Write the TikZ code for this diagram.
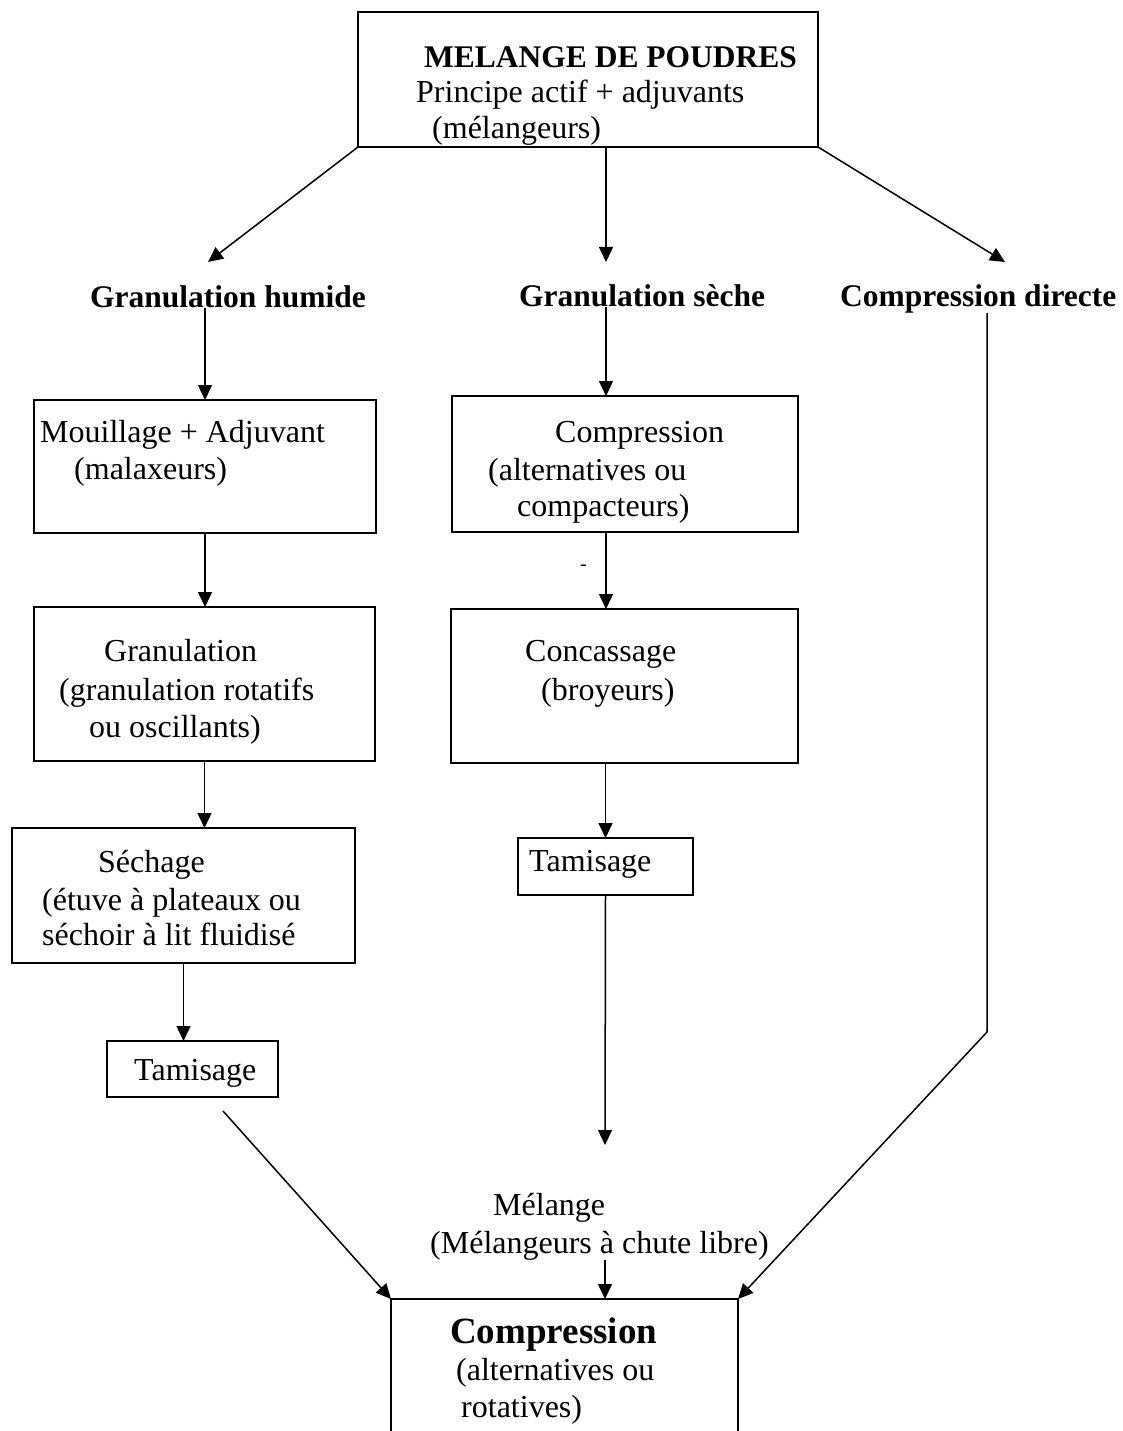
\documentclass[tikz,border=0pt]{standalone}
\usepackage{fontspec}
\setmainfont{Liberation Serif}
\usetikzlibrary{arrows.meta}
\begin{document}
\begin{tikzpicture}[x=1pt,y=-1pt,
  box/.style={draw,line width=1.5pt,inner sep=0pt,outer sep=0pt},
  txt/.style={inner sep=0pt,anchor=base west,font=\fontsize{32}{37}\selectfont},
  btxt/.style={inner sep=0pt,anchor=base west,font=\fontsize{31.5}{37}\selectfont\bfseries},
  bigtxt/.style={inner sep=0pt,anchor=base west,font=\fontsize{37}{40}\selectfont\bfseries},
  arr/.style={line width=1.5pt,-{Triangle[length=15pt,width=14pt]}},
  ln/.style={line width=1.5pt}]
\useasboundingbox (0,0) rectangle (1122,1431);

% boxes
\node[box,minimum width=460pt,minimum height=135pt] (top) at (588,79.5) {};
\node[box,minimum width=342pt,minimum height=133pt] (b1) at (205,466.5) {};
\node[box,minimum width=341pt,minimum height=154pt] (b2) at (204.5,684) {};
\node[box,minimum width=343pt,minimum height=135pt] (b3) at (183.5,895.5) {};
\node[box,minimum width=171pt,minimum height=56pt] (b4) at (192.5,1069) {};
\node[box,minimum width=346pt,minimum height=136pt] (m1) at (625,464) {};
\node[box,minimum width=347pt,minimum height=154pt] (m2) at (624.5,686) {};
\node[box,minimum width=175pt,minimum height=57pt] (m3) at (605.5,866.5) {};
\node[inner sep=0pt,outer sep=0pt,minimum width=347pt,minimum height=150pt] (bot) at (564.5,1374) {};
\draw[ln] (bot.south west) -- (bot.north west) -- (bot.north east) -- (bot.south east);

% texts
\node[btxt] (t1) at (424,68) {MELANGE DE POUDRES};
\node[txt] (t2) at (416,103) {Principe actif + adjuvants};
\node[txt] (t3) at (432,139) {(mélangeurs)};

\node[btxt] (gh) at (90,307) {Granulation humide};
\node[btxt] (gs) at (519,306) {Granulation sèche};
\node[btxt] (cd) at (840,306) {Compression directe};

\node[txt] (b1a) at (40,442) {Mouillage + Adjuvant};
\node[txt] (b1b) at (74,479) {(malaxeurs)};
\node[txt] (b2a) at (104,661) {Granulation};
\node[txt] (b2b) at (59,700) {(granulation rotatifs};
\node[txt] (b2c) at (89,737) {ou oscillants)};
\node[txt] (b3a) at (98,872) {Séchage};
\node[txt] (b3b) at (42,910) {(étuve à plateaux ou};
\node[txt] (b3c) at (42,945) {séchoir à lit fluidisé};
\node[txt] (b4a) at (134,1080) {Tamisage};

\node[txt] (m1a) at (555,442) {Compression};
\node[txt] (m1b) at (488,480) {(alternatives ou};
\node[txt] (m1c) at (517,516) {compacteurs)};
\node[txt,font=\fontsize{20}{24}\selectfont] (dash) at (580,570) {-};
\node[txt] (m2a) at (525,661) {Concassage};
\node[txt] (m2b) at (541,700) {(broyeurs)};
\node[txt] (m3a) at (529,871) {Tamisage};

\node[txt] (mel1) at (493,1215) {Mélange};
\node[txt] (mel2) at (430,1253) {(Mélangeurs à chute libre)};

\node[bigtxt] (c1) at (450,1343) {Compression};
\node[txt] (c2) at (456,1380) {(alternatives ou};
\node[txt] (c3) at (461,1417) {rotatives)};

% coordinates
\coordinate (cgh) at (208,262);
\coordinate (cgs) at (606,262);
\coordinate (ccd) at (1005,262);
\coordinate (cme) at (605,1145);
\coordinate (ctam) at (223,1111);
\coordinate (cdl) at (987,1032);

% connectors
\draw[arr] (top.south west) -- (cgh);
\draw[arr] (top.south -| cgs) -- (cgs);
\draw[arr] (top.south east) -- (ccd);

\draw[arr] (b1.north |- gh.south) -- (b1.north);
\draw[arr] (b1.south) -- (b1.south |- b2.north);
\draw[arr] (b2.south) -- (b2.south |- b3.north);
\draw[arr] (b3.south) -- (b3.south |- b4.north);
\draw[arr] (ctam) -- (bot.north west);

\draw[arr] (gs.south -| cgs) -- (m1.north -| cgs);
\draw[arr] (m1.south -| cgs) -- (m2.north -| cgs);
\draw[arr] (m3.north |- m2.south) -- (m3.north);
\draw[arr] (m3.south) -- (cme);
\draw[arr] (mel2.south -| cme) -- (bot.north -| cme);

\draw[arr] (cd.south -| cdl) -- (cdl) -- (bot.north east);
\end{tikzpicture}
\end{document}
